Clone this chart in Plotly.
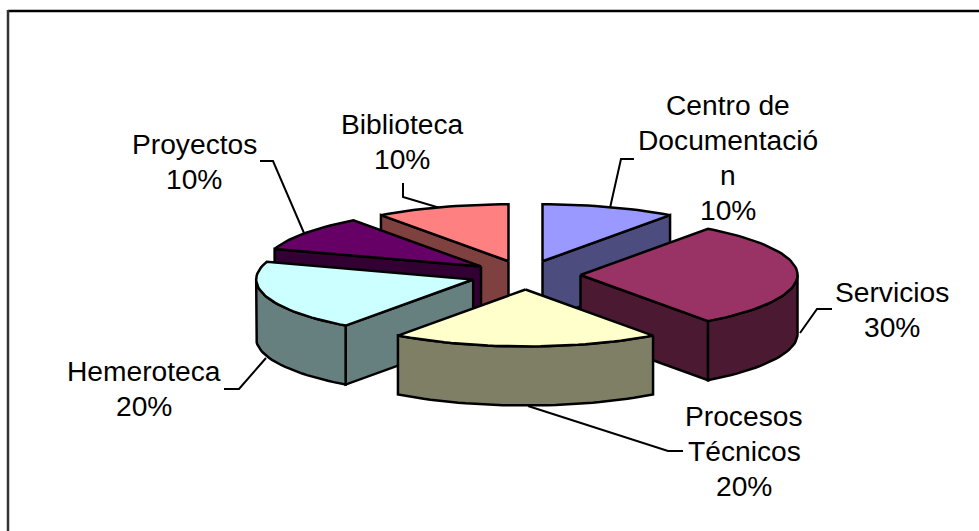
import math
import plotly.graph_objects as go

# --- data -----------------------------------------------------------------
categories = ["Centro de Documentación", "Servicios", "Procesos Técnicos",
              "Hemeroteca", "Proyectos", "Biblioteca"]
values = [10, 30, 20, 20, 10, 10]
top_colors = ["#9999FF", "#993366", "#FFFFCC", "#CCFFFF", "#660066", "#FF8080"]
side_colors = ["#4C4C7F", "#4C1933", "#7F7F66", "#667F7F", "#330033", "#7F4040"]
label_lines = [["Centro de", "Documentació", "n"], ["Servicios"], ["Procesos", "Técnicos"],
               ["Hemeroteca"], ["Proyectos"], ["Biblioteca"]]

# --- layout of the drawing (pixel-scaled axes) ------------------------------
W, H = 979, 531
CX, CY = 525.5, 275.0
RX, RY = 217.0, 57.0
EXPLODE = 0.2535
DEPTH = 59.0
FONT = "Liberation Sans, Arial, sans-serif"
FONT_SIZE = 28.2
LINE_H = 35
label_center = [728, 892, 744, 144, 194, 402]
label_first_baseline = [114, 301, 425, 380, 153, 133]
leaders = [
    [(634, 159), (621, 159), (610, 208)],
    [(832, 309), (817, 309), (800, 333)],
    [(683, 451), (668, 451), (528, 406)],
    [(224, 389), (239, 389), (266, 358)],
    [(260, 161), (273, 161), (304, 233)],
    [(403, 183), (403, 197), (440, 208)],
]
draw_order = [0, 5, 4, 3, 1, 2]

total = sum(values)
spans = []
acc = 0.0
for v in values:
    a0 = acc / total * 360
    acc += v
    spans.append((a0, acc / total * 360))


def pt(apex, deg, dz=0.0):
    r = math.radians(deg)
    return apex[0] + RX * math.sin(r), apex[1] - RY * math.cos(r) + dz


def arc(apex, a0, a1, dz=0.0):
    n = max(2, int(abs(a1 - a0) / 2))
    return [pt(apex, a0 + (a1 - a0) * i / n, dz) for i in range(n + 1)]


fig = go.Figure()


def poly(points, fill):
    xs = [p[0] for p in points] + [points[0][0]]
    ys = [p[1] for p in points] + [points[0][1]]
    fig.add_trace(go.Scatter(x=xs, y=ys, mode="lines", fill="toself", fillcolor=fill,
                             line=dict(color="black", width=2.5, shape="linear"),
                             hoverinfo="skip", showlegend=False))


for seg in leaders:
    fig.add_trace(go.Scatter(x=[p[0] for p in seg], y=[p[1] for p in seg], mode="lines",
                             line=dict(color="black", width=2),
                             hoverinfo="skip", showlegend=False))

for i in draw_order:
    a0, a1 = spans[i]
    mid = math.radians((a0 + a1) / 2)
    apex = (CX + EXPLODE * RX * math.sin(mid), CY - EXPLODE * RY * math.cos(mid))
    low = (apex[0], apex[1] + DEPTH)
    # visible radial walls
    if 0 < a1 < 180:
        poly([apex, pt(apex, a1), pt(apex, a1, DEPTH), low], side_colors[i])
    if 180 < a0 < 360:
        poly([apex, pt(apex, a0), pt(apex, a0, DEPTH), low], side_colors[i])
    # visible part of the rim wall
    b0, b1 = max(a0, 90), min(a1, 270)
    if b0 < b1:
        poly(arc(apex, b0, b1) + arc(apex, b1, b0, DEPTH), side_colors[i])
    # top face
    poly([apex] + arc(apex, a0, a1), top_colors[i])

annotations = []
for i, lines in enumerate(label_lines):
    texts = lines + [f"{round(values[i] / total * 100)}%"]
    for j, t in enumerate(texts):
        annotations.append(dict(x=label_center[i], y=label_first_baseline[i] + j * LINE_H - 9.5,
                                text=t, showarrow=False, xanchor="center", yanchor="middle",
                                font=dict(family=FONT, size=FONT_SIZE, color="black")))

fig.update_layout(
    width=W, height=H, margin=dict(l=0, r=0, t=0, b=0),
    paper_bgcolor="white", plot_bgcolor="white", showlegend=False,
    xaxis=dict(range=[0, W], visible=False, fixedrange=True),
    yaxis=dict(range=[H, 0], visible=False, fixedrange=True),
    annotations=annotations,
    shapes=[
        dict(type="line", xref="x", yref="y", x0=8, x1=W, y0=11, y1=11,
             line=dict(color="black", width=2.5)),
        dict(type="line", xref="x", yref="y", x0=8, x1=8, y0=10, y1=H,
             line=dict(color="#333333", width=2.5)),
    ],
)
fig.write_html("out.html", config={"displayModeBar": False},
               post_script="document.body.style.margin='0';document.documentElement.style.overflow='hidden';")
